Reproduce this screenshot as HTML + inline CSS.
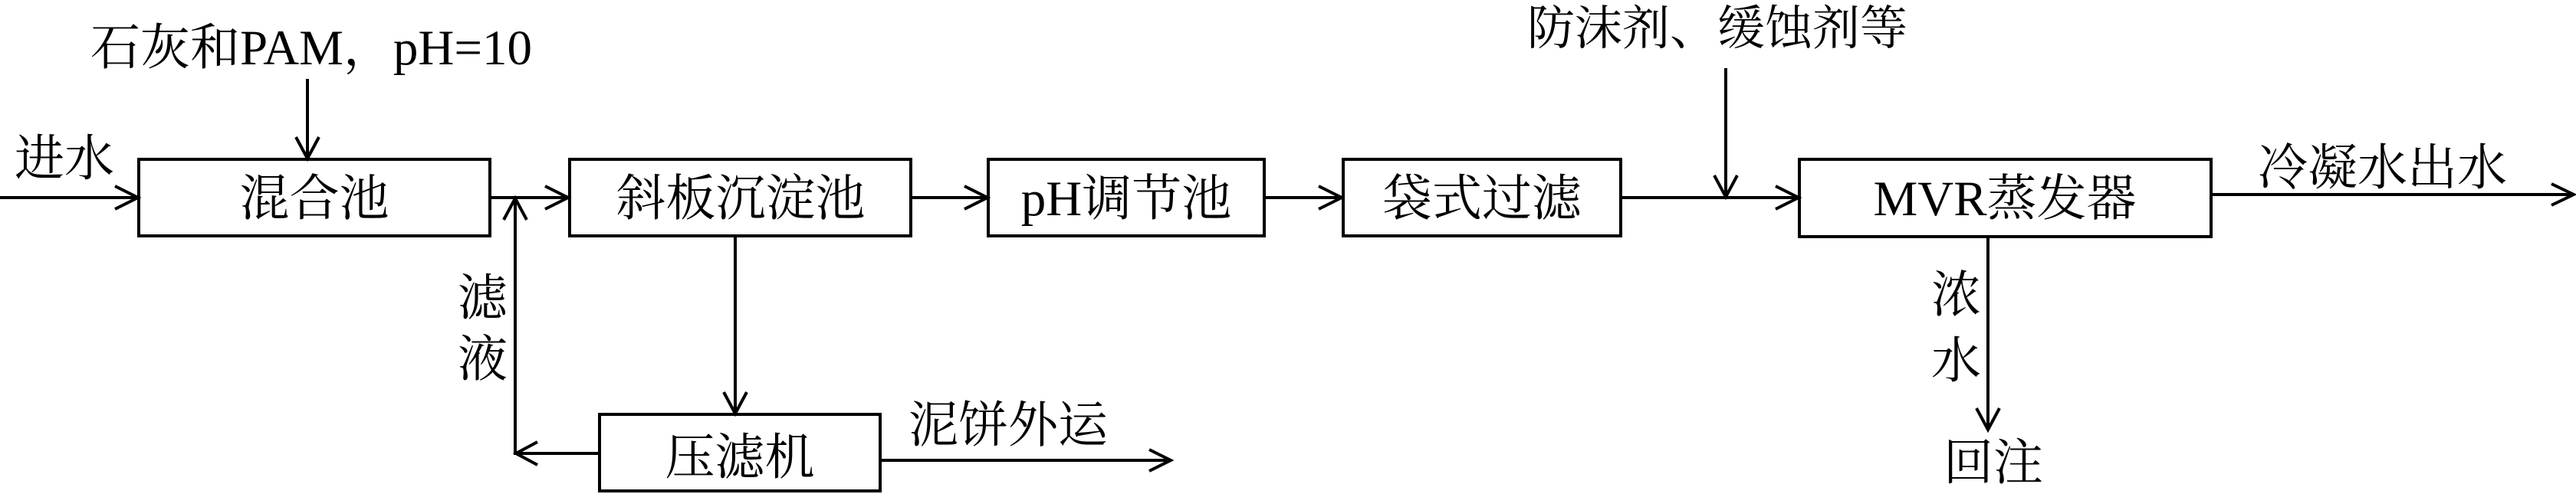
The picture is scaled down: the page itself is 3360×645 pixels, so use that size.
<!DOCTYPE html>
<html>
<head>
<meta charset="utf-8">
<style>
html,body{margin:0;padding:0;background:#fff;}
body{width:3360px;height:645px;overflow:hidden;}
svg{display:block;}
text{font-family:"Liberation Serif","Noto Serif CJK SC","Noto Sans CJK SC",serif;fill:#000;}
</style>
</head>
<body>
<svg width="3360" height="645" viewBox="0 0 3360 645" xmlns="http://www.w3.org/2000/svg">
<g fill="none" stroke="#000" stroke-width="4" stroke-linecap="butt" stroke-linejoin="miter">
  <!-- boxes -->
  <rect x="181" y="208" width="458" height="100"/>
  <rect x="743" y="208" width="445" height="100"/>
  <rect x="1289" y="208" width="360" height="100"/>
  <rect x="1752" y="208" width="362" height="100"/>
  <rect x="2347" y="208" width="537" height="101"/>
  <rect x="782" y="541" width="366" height="100"/>

  <!-- lines -->
  <line x1="0" y1="258" x2="179" y2="258"/>
  <line x1="401" y1="103" x2="401" y2="206"/>
  <line x1="639" y1="258" x2="741" y2="258"/>
  <line x1="782" y1="592" x2="674" y2="592"/>
  <line x1="672" y1="594" x2="672" y2="260"/>
  <line x1="959" y1="308" x2="959" y2="539"/>
  <line x1="1188" y1="258" x2="1287" y2="258"/>
  <line x1="1649" y1="258" x2="1750" y2="258"/>
  <line x1="2114" y1="258" x2="2345" y2="258"/>
  <line x1="2251" y1="89" x2="2251" y2="256"/>
  <line x1="2884" y1="254" x2="3355" y2="254"/>
  <line x1="2593" y1="309" x2="2593" y2="560"/>
  <line x1="1148" y1="601" x2="1526" y2="601"/>

  <!-- arrowheads (open chevrons) -->
  <polyline points="150,243 180,258 150,273"/>
  <polyline points="386,179 401,207 416,179"/>
  <polyline points="711,243 741,258 711,273"/>
  <polyline points="701,577 673,592 701,607"/>
  <polyline points="657,287 672,259 687,287"/>
  <polyline points="944,512 959,540 974,512"/>
  <polyline points="1258,243 1288,258 1258,273"/>
  <polyline points="1720,243 1750,258 1720,273"/>
  <polyline points="2316,243 2346,258 2316,273"/>
  <polyline points="2236,229 2251,257 2266,229"/>
  <polyline points="3328,240 3357,254 3328,268"/>
  <polyline points="2578,533 2593,561 2608,533"/>
  <polyline points="1499,587 1527,601 1499,615"/>
</g>

<g font-size="65">
  <text x="118" y="84">石灰和PAM，pH=10</text>
  <text x="19" y="229">进水</text>
  <text x="410" y="281" text-anchor="middle">混合池</text>
  <text x="966" y="281" text-anchor="middle">斜板沉淀池</text>
  <text x="1469" y="281" text-anchor="middle">pH调节池</text>
  <text x="1933" y="281" text-anchor="middle">袋式过滤</text>
  <text x="2615" y="281" text-anchor="middle">MVR蒸发器</text>
  <text x="965" y="619" text-anchor="middle">压滤机</text>
  <text x="1185" y="577">泥饼外运</text>
  <text x="2945" y="241">冷凝水出水</text>
  <text x="597" y="411">滤</text>
  <text x="597" y="491">液</text>
  <text x="2519" y="407">浓</text>
  <text x="2519" y="493">水</text>
  <text x="2535" y="626">回注</text>
</g>
<text x="1992" y="58" font-size="62">防沫剂、缓蚀剂等</text>
</svg>
</body>
</html>
